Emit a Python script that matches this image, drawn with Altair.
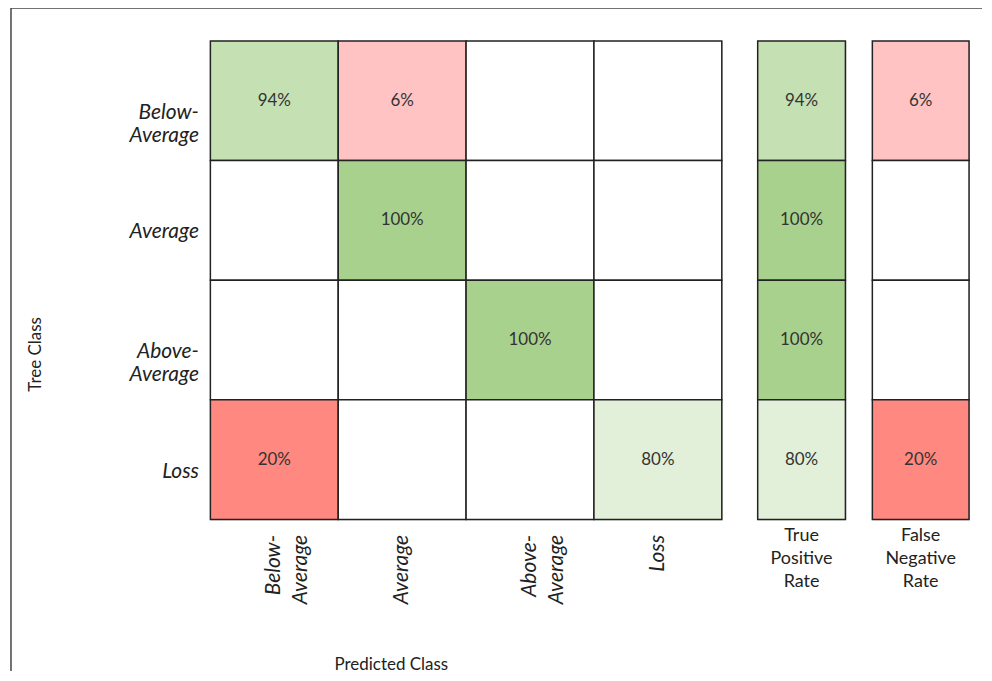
import altair as alt
import pandas as pd

FONT = "Lato"
INK = "#222222"

classes = ["Below-Average", "Average", "Above-Average", "Loss"]
matrix = [
    [94, 6, None, None],
    [None, 100, None, None],
    [None, None, 100, None],
    [20, None, None, 80],
]
tpr = [94, 100, 100, 80]
fnr = [6, None, None, 20]
rate_labels = ["True Positive Rate", "False Negative Rate"]

tones = ["none", "g100", "g94", "g80", "r20", "r6"]
tone_colors = ["#FFFFFF", "#A9D18E", "#C5E0B3", "#E2EFD9", "#FF8880", "#FFC3C3"]


def tone(v, good):
    if v is None:
        return "none"
    return ("g" if good else "r") + str(v)


rows = []
for i, t in enumerate(classes):
    for j, p in enumerate(classes):
        v = matrix[i][j]
        rows.append(dict(tree=t, pred=p, txt=f"{v}%" if v is not None else "",
                         tone=tone(v, i == j)))
cm = pd.DataFrame(rows)


def rate_df(label, values, good):
    return pd.DataFrame([
        dict(rate=label, tree=t, txt=f"{v}%" if v is not None else "", tone=tone(v, good))
        for t, v in zip(classes, values)
    ])


color = alt.Color("tone:N", scale=alt.Scale(domain=tones, range=tone_colors), legend=None)
band = alt.Scale(paddingInner=0, paddingOuter=0)

split_expr = ("indexof(datum.label, '-') > 0 ? "
              "[slice(datum.label, 0, indexof(datum.label, '-') + 1), "
              "slice(datum.label, indexof(datum.label, '-') + 1)] : datum.label")

x_main = alt.X("pred:N", sort=classes, scale=band,
               axis=alt.Axis(title="Predicted Class", labelAngle=270, labelAlign="right",
                             labelBaseline="middle", labelFontStyle="italic", labelFontSize=21,
                             labelLineHeight=27, labelPadding=15, labelExpr=split_expr,
                             ticks=False, domain=False, labelColor=INK, labelFont=FONT,
                             titleFont=FONT, titleFontSize=17, titleFontWeight="normal",
                             titleColor=INK, titleX=181, titleY=146,
                             titleAlign="center", titleBaseline="middle"))
y_main = alt.Y("tree:N", sort=classes, scale=band,
               axis=alt.Axis(title="Tree Class", labelFontStyle="italic", labelFontSize=21,
                             labelAlign="right", labelBaseline="middle", labelPadding=12,
                             labelLineHeight=23, labelOffset=12, labelExpr=split_expr,
                             ticks=False, domain=False, labelColor=INK, labelFont=FONT,
                             titleFont=FONT, titleFontSize=17, titleFontWeight="normal",
                             titleColor=INK, titleX=-175, titleY=314, titleAngle=270,
                             titleAlign="center", titleBaseline="middle"))

base = alt.Chart(cm)
rect = base.mark_rect(stroke=INK, strokeWidth=1.5).encode(x=x_main, y=y_main, color=color)
text = base.mark_text(font=FONT, fontSize=17, color="#333333").encode(
    x=x_main, y=y_main, text="txt:N")

frame_data = pd.DataFrame({"k": [0]})
frame_top = alt.Chart(frame_data).mark_rule(color="#444444", strokeWidth=1.5).encode(
    x=alt.value(-200), x2=alt.value(774), y=alt.value(-33))
frame_left = alt.Chart(frame_data).mark_rule(color="#444444", strokeWidth=1.5).encode(
    x=alt.value(-200), y=alt.value(-33), y2=alt.value(632))

main = alt.layer(rect, text, frame_top, frame_left).properties(width=513, height=480)


def rate_panel(label, values, good, width):
    d = rate_df(label, values, good)
    xr = alt.X("rate:N", scale=band,
               axis=alt.Axis(title=None, labelAngle=0, labelAlign="center",
                             labelExpr="split(datum.label, ' ')", labelFontSize=18,
                             labelLineHeight=23, labelPadding=7, ticks=False, domain=False,
                             labelColor=INK, labelFont=FONT))
    yr = alt.Y("tree:N", sort=classes, scale=band, axis=None)
    b = alt.Chart(d)
    r = b.mark_rect(stroke=INK, strokeWidth=1.5).encode(x=xr, y=yr, color=color)
    t = b.mark_text(font=FONT, fontSize=17, color="#333333").encode(x=xr, y=yr, text="txt:N")
    return alt.layer(r, t).properties(width=width, height=480)


tpr_panel = rate_panel(rate_labels[0], tpr, True, 88)
fnr_panel = rate_panel(rate_labels[1], fnr, False, 97)

chart = alt.hconcat(
    main,
    alt.hconcat(tpr_panel, fnr_panel, spacing=27, bounds="flush"),
    spacing=36, bounds="flush",
).properties(
    padding={"left": 1, "top": -3, "right": 0, "bottom": 0}
).configure_view(stroke=None).configure(font=FONT)

chart.save("out.html", embed_options={"renderer": "svg", "actions": False})
